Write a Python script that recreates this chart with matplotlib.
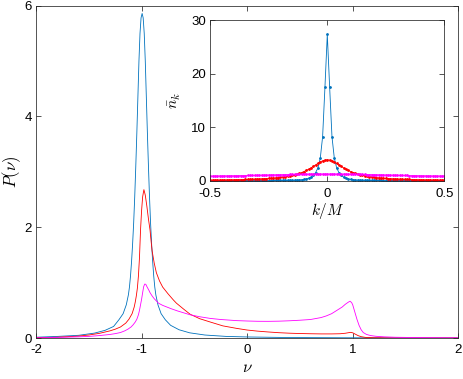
import numpy as np
import matplotlib
matplotlib.use("Agg")
import matplotlib.pyplot as plt

plt.rcParams['font.family'] = ['Liberation Sans', 'DejaVu Sans']
plt.rcParams['mathtext.fontset'] = 'cm'
plt.rcParams['axes.unicode_minus'] = False

# ---------------- main panel data: P(nu) ----------------
nu_blue = [-2.0, -1.795, -1.595, -1.445, -1.345, -1.265, -1.215, -1.175, -1.145, -1.125,
           -1.115, -1.105, -1.095, -1.085, -1.075, -1.065, -1.055, -1.045, -1.035, -1.025,
           -1.015, -1.005, -0.995, -0.985, -0.975, -0.965, -0.955, -0.945, -0.935, -0.925,
           -0.915, -0.905, -0.895, -0.885, -0.875, -0.865, -0.845, -0.815, -0.775, -0.725,
           -0.645, -0.545, -0.4, -0.2, 0.0, 0.3, 0.6, 1.0, 1.5, 2.0]
P_blue = [0.015, 0.03, 0.05, 0.09, 0.14, 0.21, 0.33, 0.44, 0.6, 0.78,
          0.92, 1.12, 1.38, 1.7, 2.08, 2.55, 3.1, 3.7, 4.35, 5.0,
          5.5, 5.78, 5.86, 5.78, 5.5, 5.0, 4.35, 3.7, 3.1, 2.55,
          2.08, 1.7, 1.38, 1.12, 0.92, 0.78, 0.6, 0.44, 0.33, 0.23,
          0.15, 0.095, 0.055, 0.03, 0.02, 0.012, 0.008, 0.005, 0.003, 0.002]

nu_red = [-2.0, -1.8, -1.6, -1.5, -1.4, -1.3, -1.25, -1.2, -1.15, -1.12,
          -1.09, -1.07, -1.06, -1.05, -1.04, -1.03, -1.02, -1.01, -1.0, -0.99,
          -0.978, -0.965, -0.95, -0.935, -0.92, -0.91, -0.9, -0.88, -0.86, -0.83,
          -0.8, -0.75, -0.7, -0.67, -0.6, -0.54, -0.45, -0.35, -0.23, -0.1,
          0.0, 0.1, 0.2, 0.3, 0.4, 0.5, 0.6, 0.7, 0.8, 0.88,
          0.93, 0.96, 0.98, 1.0, 1.02, 1.05, 1.08, 1.12, 1.2, 1.4,
          1.7, 2.0]
P_red = [0.008, 0.015, 0.035, 0.055, 0.085, 0.13, 0.16, 0.2, 0.27, 0.34,
         0.44, 0.56, 0.65, 0.76, 0.9, 1.12, 1.45, 1.95, 2.3, 2.55,
         2.68, 2.58, 2.38, 2.15, 1.95, 1.75, 1.57, 1.35, 1.18, 1.03,
         0.92, 0.8, 0.69, 0.63, 0.52, 0.43, 0.35, 0.29, 0.22, 0.175,
         0.145, 0.125, 0.11, 0.097, 0.088, 0.082, 0.078, 0.075, 0.075, 0.078,
         0.087, 0.097, 0.103, 0.095, 0.075, 0.045, 0.025, 0.012, 0.006, 0.003,
         0.002, 0.001]

nu_mag = [-2.0, -1.8, -1.6, -1.5, -1.4, -1.3, -1.25, -1.2, -1.16, -1.13,
          -1.1, -1.08, -1.06, -1.045, -1.03, -1.02, -1.01, -1.0, -0.99, -0.98,
          -0.97, -0.96, -0.95, -0.93, -0.92, -0.9, -0.88, -0.86, -0.84, -0.8,
          -0.76, -0.72, -0.66, -0.6, -0.54, -0.45, -0.35, -0.25, -0.1, 0.0,
          0.1, 0.2, 0.3, 0.4, 0.5, 0.6, 0.7, 0.75, 0.8, 0.85,
          0.9, 0.93, 0.96, 0.975, 0.99, 1.0, 1.02, 1.04, 1.06, 1.08,
          1.1, 1.13, 1.17, 1.22, 1.3, 1.4, 1.6, 1.8, 2.0]
P_mag = [0.005, 0.012, 0.022, 0.03, 0.045, 0.065, 0.08, 0.1, 0.13, 0.16,
         0.2, 0.24, 0.29, 0.34, 0.42, 0.5, 0.6, 0.7, 0.82, 0.93,
         0.975, 0.97, 0.93, 0.86, 0.82, 0.76, 0.71, 0.67, 0.63, 0.59,
         0.56, 0.53, 0.49, 0.455, 0.42, 0.385, 0.355, 0.335, 0.315, 0.308,
         0.303, 0.302, 0.305, 0.312, 0.322, 0.335, 0.37, 0.4, 0.44, 0.5,
         0.56, 0.61, 0.65, 0.665, 0.64, 0.6, 0.47, 0.34, 0.23, 0.15,
         0.1, 0.066, 0.045, 0.032, 0.022, 0.015, 0.009, 0.006, 0.004]

main_xticks = [-2, -1, 0, 1, 2]
main_yticks = [0, 2, 4, 6]

# ---------------- inset data: n_k vs k/M ----------------
k_over_M = np.linspace(-0.5, 0.5, 101)
n_blue = [0.02, 0.02, 0.02, 0.02, 0.021, 0.021, 0.021, 0.021, 0.022, 0.022,
          0.022, 0.023, 0.023, 0.024, 0.024, 0.025, 0.025, 0.026, 0.027, 0.028,
          0.029, 0.03, 0.031, 0.032, 0.034, 0.036, 0.038, 0.04, 0.043, 0.046,
          0.049, 0.053, 0.058, 0.064, 0.07, 0.08, 0.09, 0.11, 0.14, 0.18,
          0.24, 0.32, 0.45, 0.65, 1.0, 1.5, 2.4, 4.2, 8.2, 17.5,
          27.3,
          17.5, 8.2, 4.2, 2.4, 1.5, 1.0, 0.65, 0.45, 0.32, 0.24,
          0.18, 0.14, 0.11, 0.09, 0.08, 0.07, 0.064, 0.058, 0.053, 0.049,
          0.046, 0.043, 0.04, 0.038, 0.036, 0.034, 0.032, 0.031, 0.03, 0.029,
          0.028, 0.027, 0.026, 0.025, 0.025, 0.024, 0.024, 0.023, 0.023, 0.022,
          0.022, 0.022, 0.021, 0.021, 0.021, 0.021, 0.02, 0.02, 0.02, 0.02]
n_red = [0.117, 0.122, 0.127, 0.132, 0.138, 0.144, 0.15, 0.157, 0.164, 0.172,
         0.18, 0.189, 0.198, 0.209, 0.22, 0.232, 0.245, 0.259, 0.274, 0.29,
         0.31, 0.33, 0.35, 0.375, 0.40, 0.43, 0.46, 0.50, 0.54, 0.58,
         0.63, 0.69, 0.75, 0.82, 0.91, 1.00, 1.10, 1.23, 1.36, 1.52,
         1.70, 1.91, 2.14, 2.39, 2.66, 2.95, 3.23, 3.49, 3.71, 3.85,
         3.9,
         3.85, 3.71, 3.49, 3.23, 2.95, 2.66, 2.39, 2.14, 1.91, 1.70,
         1.52, 1.36, 1.23, 1.10, 1.00, 0.91, 0.82, 0.75, 0.69, 0.63,
         0.58, 0.54, 0.50, 0.46, 0.43, 0.40, 0.375, 0.35, 0.33, 0.31,
         0.29, 0.274, 0.259, 0.245, 0.232, 0.22, 0.209, 0.198, 0.189, 0.18,
         0.172, 0.164, 0.157, 0.15, 0.144, 0.138, 0.132, 0.127, 0.122, 0.117]
n_mag = [0.87, 0.874, 0.879, 0.884, 0.889, 0.895, 0.901, 0.907, 0.914, 0.921,
         0.928, 0.936, 0.944, 0.952, 0.961, 0.97, 0.979, 0.988, 0.998, 1.008,
         1.018, 1.028, 1.038, 1.049, 1.059, 1.07, 1.08, 1.091, 1.101, 1.112,
         1.122, 1.132, 1.142, 1.152, 1.162, 1.171, 1.18, 1.189, 1.197, 1.205,
         1.212, 1.219, 1.225, 1.231, 1.236, 1.24, 1.244, 1.247, 1.249, 1.25,
         1.25,
         1.25, 1.249, 1.247, 1.244, 1.24, 1.236, 1.231, 1.225, 1.219, 1.212,
         1.205, 1.197, 1.189, 1.18, 1.171, 1.162, 1.152, 1.142, 1.132, 1.122,
         1.112, 1.101, 1.091, 1.08, 1.07, 1.059, 1.049, 1.038, 1.028, 1.018,
         1.008, 0.998, 0.988, 0.979, 0.97, 0.961, 0.952, 0.944, 0.936, 0.928,
         0.921, 0.914, 0.907, 0.901, 0.895, 0.889, 0.884, 0.879, 0.874, 0.87]

inset_xticks = [-0.5, 0, 0.5]
inset_yticks = [0, 10, 20, 30]

C_BLUE = '#0072BD'
C_RED = '#FF0000'
C_MAG = '#FF00FF'
AX_COL = '#262626'

fig = plt.figure(figsize=(4.63, 3.79), dpi=100)

def style(ax, fs, xpad, ypad):
    for s in ax.spines.values():
        s.set_color(AX_COL)
        s.set_linewidth(0.55)
    ax.tick_params(direction='in', top=True, right=True, length=3.5, width=0.55,
                   colors=AX_COL, labelsize=fs)
    ax.tick_params(axis='x', pad=xpad)
    ax.tick_params(axis='y', pad=ypad)
    for lab in ax.get_xticklabels() + ax.get_yticklabels():
        lab.set_color('black')

ax = fig.add_axes([0.0778, 0.108, 0.912, 0.877])
ax.plot(nu_blue, P_blue, color=C_BLUE, lw=0.6)
ax.plot(nu_red, P_red, color=C_RED, lw=0.6)
ax.plot(nu_mag, P_mag, color=C_MAG, lw=0.6)
ax.set_xlim(-2, 2)
ax.set_ylim(0, 6)
ax.set_xticks(main_xticks)
ax.set_yticks(main_yticks)
ax.set_xticklabels([str(v) for v in main_xticks])
ax.set_yticklabels([str(v) for v in main_yticks])
style(ax, 9.5, 4, 3)
ax.set_xlabel(r'$\nu$', fontsize=12, labelpad=3)
ax.set_ylabel(r'$P(\nu)$', fontsize=12, labelpad=1)

ins = fig.add_axes([0.4542, 0.5232, 0.5054, 0.424])
ins.plot(k_over_M, n_blue, color=C_BLUE, lw=0.6, marker='.', ms=2.0)
ins.plot(k_over_M, n_red, color=C_RED, lw=0.6, marker='.', ms=2.0)
ins.plot(k_over_M, n_mag, color=C_MAG, lw=0.6, marker='.', ms=2.0)
ins.set_xlim(-0.5, 0.5)
ins.set_ylim(0, 30)
ins.set_xticks(inset_xticks)
ins.set_yticks(inset_yticks)
ins.set_xticklabels(['-0.5', '0', '0.5'])
ins.set_yticklabels([str(v) for v in inset_yticks])
style(ins, 9.5, 5, 3)
ins.set_xlabel(r'$k/M$', fontsize=11, labelpad=1)
ins.set_ylabel(r'$\bar{n}_k$', fontsize=11, labelpad=6)

fig.savefig('out.png', dpi=100)
